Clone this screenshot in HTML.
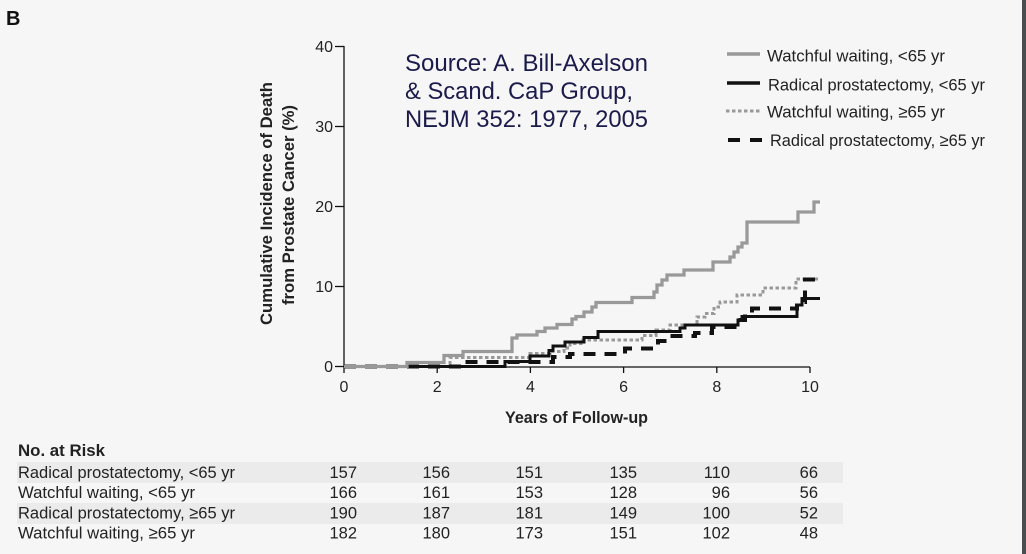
<!DOCTYPE html>
<html><head><meta charset="utf-8"><style>
html,body{margin:0;padding:0;background:#f6f6f6;}
svg{display:block;}
text{font-family:"Liberation Sans",sans-serif;}
</style></head><body>
<svg width="1026" height="554" viewBox="0 0 1026 554" xmlns="http://www.w3.org/2000/svg">
<rect x="0" y="0" width="1026" height="554" fill="#f6f6f6"/>
<rect x="1022" y="0" width="4" height="554" fill="#4a4d50"/>

<text x="6" y="25" font-size="20" font-weight="bold" fill="#111">B</text>

<!-- axes -->
<g stroke="#111" stroke-width="1.3" fill="none">
<line x1="344" y1="46" x2="344" y2="373"/>
<line x1="335" y1="46.5" x2="344" y2="46.5"/>
<line x1="335" y1="126.5" x2="344" y2="126.5"/>
<line x1="335" y1="206.5" x2="344" y2="206.5"/>
<line x1="335" y1="286.5" x2="344" y2="286.5"/>
<line x1="335" y1="366.5" x2="344" y2="366.5"/>
<line x1="344" y1="367" x2="810" y2="367"/>
<line x1="437.2" y1="367" x2="437.2" y2="373"/>
<line x1="530.4" y1="367" x2="530.4" y2="373"/>
<line x1="623.6" y1="367" x2="623.6" y2="373"/>
<line x1="716.8" y1="367" x2="716.8" y2="373"/>
<line x1="810" y1="367" x2="810" y2="373"/>
</g>
<g font-size="16" fill="#222" text-anchor="end">
<text x="333" y="52">40</text>
<text x="333" y="132">30</text>
<text x="333" y="212">20</text>
<text x="333" y="292">10</text>
<text x="333" y="372">0</text>
</g>
<g font-size="16" fill="#222" text-anchor="middle">
<text x="344" y="392">0</text>
<text x="437.2" y="392">2</text>
<text x="530.4" y="392">4</text>
<text x="623.6" y="392">6</text>
<text x="716.8" y="392">8</text>
<text x="810" y="392">10</text>
</g>
<text x="505" y="423" font-size="17" font-weight="bold" fill="#222" textLength="143" lengthAdjust="spacingAndGlyphs">Years of Follow-up</text>

<text transform="translate(272,325) rotate(-90)" font-size="16.5" font-weight="bold" fill="#222" textLength="243" lengthAdjust="spacingAndGlyphs">Cumulative Incidence of Death</text>
<text transform="translate(294,305) rotate(-90)" font-size="16.5" font-weight="bold" fill="#222" textLength="200" lengthAdjust="spacingAndGlyphs">from Prostate Cancer (%)</text>

<!-- source -->
<g font-size="24" fill="#1b1b4b">
<text x="405" y="71" textLength="243" lengthAdjust="spacingAndGlyphs">Source: A. Bill-Axelson</text>
<text x="405" y="99" textLength="228" lengthAdjust="spacingAndGlyphs">&amp; Scand. CaP Group,</text>
<text x="405" y="127" textLength="243" lengthAdjust="spacingAndGlyphs">NEJM 352: 1977, 2005</text>
</g>

<!-- legend -->
<g stroke-width="3" fill="none">
<line x1="727" y1="54" x2="760" y2="54" stroke="#999" stroke-width="3.5"/>
<line x1="727" y1="83" x2="760" y2="83" stroke="#111" stroke-width="3.5"/>
<line x1="726" y1="111" x2="760" y2="111" stroke="#999" stroke-dasharray="3.5 2.5"/>
<line x1="728" y1="140" x2="762" y2="140" stroke="#111" stroke-width="4" stroke-dasharray="12 10"/>
</g>
<g font-size="17" fill="#222">
<text x="767" y="61.5" textLength="178" lengthAdjust="spacingAndGlyphs">Watchful waiting, &lt;65 yr</text>
<text x="768" y="90.5" textLength="217" lengthAdjust="spacingAndGlyphs">Radical prostatectomy, &lt;65 yr</text>
<text x="767" y="117.5" textLength="178" lengthAdjust="spacingAndGlyphs">Watchful waiting, ≥65 yr</text>
<text x="770" y="146" textLength="215" lengthAdjust="spacingAndGlyphs">Radical prostatectomy, ≥65 yr</text>
</g>

<!-- curves -->
<g fill="none" stroke-linejoin="miter">
<path stroke="#999" stroke-width="3" stroke-dasharray="3.5 2.5" d="M344,366.5 H450 V357.5 H530 V353.5 H550 V351.5 H564 V348 H570 V343.5 H583 V340 H642 V335.5 H656 V330 H670 V325 H697 V317 H705 V313.5 H714 V307 H720 V302 H737 V295 H763 V288 H796 V279 H820"/>
<path stroke="#111" stroke-width="3" d="M344,366.5 H505 V361.5 H530 V356 H549 V350.5 H553 V346 H565 V342 H584 V337.5 H598 V331.5 H680 V328 H685 V325 H738 V320 H742 V316.5 H797 V305 H802 V298.5 H820"/>
<path stroke="#111" stroke-width="4" stroke-dasharray="12 9" d="M344,366.5 H462 V362 H553 V357 H570 V354 H625 V348.5 H658 V341 H668 V336 H695 V333 H712 V327 H738 V320 H745 V314 H752 V308.5 H797 V302 H805 V279.5 H820"/>
<path stroke="#999" stroke-width="3.3" d="M344,366.5 H407 V362.5 H444 V355.5 H463 V351.5 H512 V338 H517 V335 H537 V331.5 H545 V328 H557 V324.5 H572 V319 H576 V316.5 H584 V312 H592 V307 H596 V302.5 H632 V297.5 H654 V292 H657 V285 H662 V280 H667 V275 H684 V270 H713 V262 H730 V257 H734 V252 H738 V247 H742 V243 H747 V222 H798 V212 H814 V202 H820"/>
</g>

<!-- table -->
<rect x="17" y="462" width="826" height="21" fill="#ebebeb"/>
<rect x="17" y="503" width="826" height="21" fill="#ebebeb"/>
<text x="18" y="456" font-size="17" font-weight="bold" fill="#222" textLength="87" lengthAdjust="spacingAndGlyphs">No. at Risk</text>
<g font-size="17" fill="#222">
<text x="18" y="478" textLength="217" lengthAdjust="spacingAndGlyphs">Radical prostatectomy, &lt;65 yr</text>
<text x="18" y="498" textLength="177" lengthAdjust="spacingAndGlyphs">Watchful waiting, &lt;65 yr</text>
<text x="18" y="518.5" textLength="217" lengthAdjust="spacingAndGlyphs">Radical prostatectomy, ≥65 yr</text>
<text x="18" y="538.5" textLength="177" lengthAdjust="spacingAndGlyphs">Watchful waiting, ≥65 yr</text>
</g>
<g font-size="16.5" fill="#222" text-anchor="end">
<text x="357" y="478">157</text><text x="450" y="478">156</text><text x="543" y="478">151</text><text x="637" y="478">135</text><text x="730" y="478">110</text><text x="818" y="478">66</text>
<text x="357" y="498">166</text><text x="450" y="498">161</text><text x="543" y="498">153</text><text x="637" y="498">128</text><text x="730" y="498">96</text><text x="818" y="498">56</text>
<text x="357" y="518.5">190</text><text x="450" y="518.5">187</text><text x="543" y="518.5">181</text><text x="637" y="518.5">149</text><text x="730" y="518.5">100</text><text x="818" y="518.5">52</text>
<text x="357" y="538.5">182</text><text x="450" y="538.5">180</text><text x="543" y="538.5">173</text><text x="637" y="538.5">151</text><text x="730" y="538.5">102</text><text x="818" y="538.5">48</text>
</g>
</svg>
</body></html>
